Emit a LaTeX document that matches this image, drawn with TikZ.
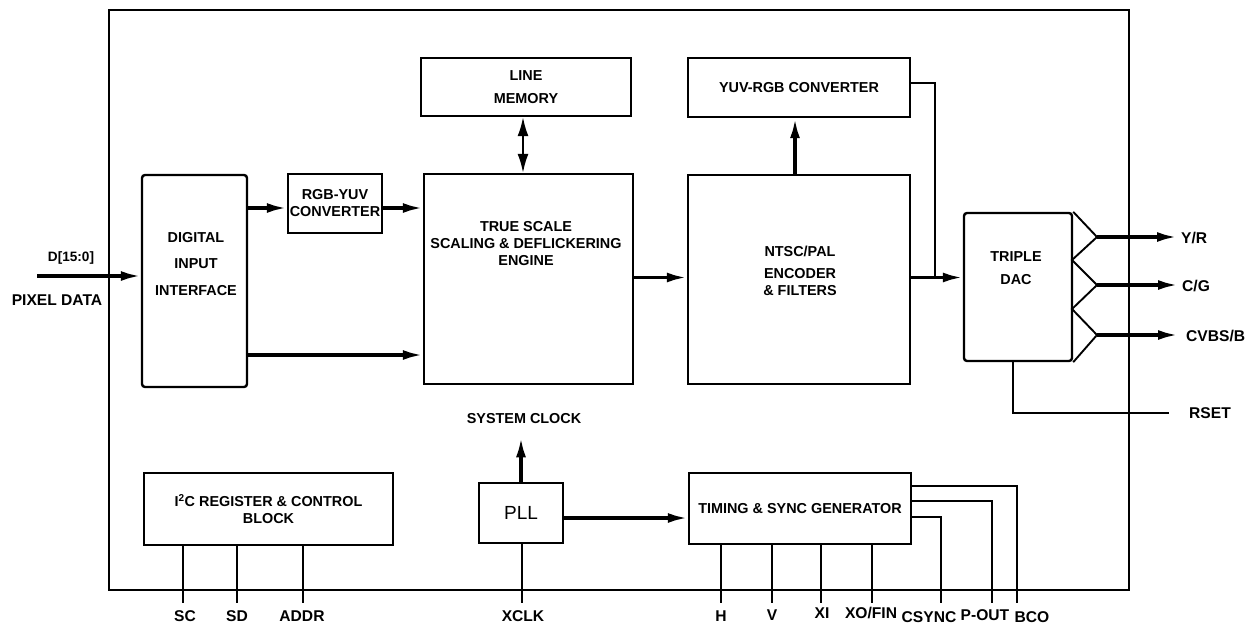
\documentclass[tikz,border=0pt]{standalone}
\usepackage{fontspec}
\setmainfont{Liberation Sans}
\usetikzlibrary{arrows.meta}

\begin{document}
\begin{tikzpicture}[x=1pt,y=-1pt,
  blk/.style={draw,line width=2.4pt,inner sep=0pt,font=\fontsize{14.4}{17}\selectfont\bfseries,align=center},
  rblk/.style={blk,rounded corners=3pt},
  txt/.style={font=\fontsize{14.4}{17}\selectfont\bfseries,align=center,inner sep=0pt},
  lbl/.style={txt,font=\fontsize{15.6}{18}\selectfont\bfseries},
  wire/.style={line width=1.9pt},
  bus/.style={line width=3.4pt,-{Latex[length=20pt,width=10pt]}}]
\useasboundingbox (0,0) rectangle (1253,624);
% chip outline
\draw[line width=2.4pt] (109,10) rectangle (1129,590);

% blocks
\node[rblk,minimum width=105pt,minimum height=212pt] (dii) at (194.5,281) {};
\node[txt] (dii-t) at (196,264) {DIGITAL\\[9.5pt]INPUT\\[9.5pt]INTERFACE};
\node[blk,minimum width=94pt,minimum height=59pt] (rgb) at (335,203.5) {RGB-YUV\\CONVERTER};
\node[blk,minimum width=210pt,minimum height=58pt] (lmem) at (526,87) {LINE\\[6pt]MEMORY};
\node[blk,minimum width=209pt,minimum height=210pt] (tse) at (528.5,279) {};
\node[txt] (tse-t) at (526,244) {TRUE SCALE\\SCALING \& DEFLICKERING\\ENGINE};
\node[blk,minimum width=222pt,minimum height=59pt] (yuv) at (799,87.5) {YUV-RGB CONVERTER};
\node[blk,minimum width=222pt,minimum height=209pt] (ntsc) at (799,279.5) {};
\node[txt] (ntsc-t) at (800,271) {NTSC/PAL\\[5pt]ENCODER\\\& FILTERS};
\node[rblk,minimum width=108pt,minimum height=148pt] (dac) at (1018,287) {};
\node[txt] (dac-t) at (1016,268.5) {TRIPLE\\[6pt]DAC};
\node[blk,minimum width=249pt,minimum height=72pt] (i2c) at (268.5,509) {I\textsuperscript{2}C REGISTER \& CONTROL\\BLOCK};
\node[blk,minimum width=84pt,minimum height=60pt,font=\fontsize{19}{22}\selectfont] (pll) at (521,513) {PLL};
\node[blk,minimum width=222pt,minimum height=71pt] (tsg) at (800,508.5) {TIMING \& SYNC GENERATOR};
\node[txt] (clk) at (524,419) {SYSTEM CLOCK};

% DAC output buffers
\draw[wire] (dac.north east) -- (1097,237) coordinate (t1) -- (1072,260) -- (1097,285) coordinate (t2)
  -- (1072,309) -- (1097,335) coordinate (t3) -- (dac.south east);

% outside labels
\node[txt,font=\fontsize{13.6}{16}\selectfont\bfseries] (d) at (71,258) {D[15:0]};
\node[lbl] (pix) at (57,300) {PIXEL DATA};
\node[lbl,anchor=west] (yr) at (1181,238) {Y/R};
\node[lbl,anchor=west] (cg) at (1182,286) {C/G};
\node[lbl,anchor=west] (cvbs) at (1186,336) {CVBS/B};
\node[lbl,anchor=west] (rset) at (1189,413) {RSET};

% data path
\coordinate (din) at (37,276);
\coordinate (c1) at (0,208);
\coordinate (c2) at (0,355);
\coordinate (c3) at (0,277.5);
\coordinate (jn) at (935,277.5);
\draw[bus] (din) -- (din -| dii.west);
\draw[bus] (dii.east |- c1) -- (rgb.west |- c1);
\draw[bus] (rgb.east |- c1) -- (tse.west |- c1);
\draw[bus] (dii.east |- c2) -- (tse.west |- c2);
\draw[bus] (tse.east |- c3) -- (ntsc.west |- c3);
\draw[bus] (ntsc.east |- c3) -- (dac.west |- c3);
\draw[bus] ([xshift=-4pt]ntsc.north) -- ([xshift=-4pt]yuv.south);
\draw[wire] ([yshift=4.5pt]yuv.east) -| (jn);
\draw[line width=1.9pt,{Latex[length=19pt,width=11pt]}-{Latex[length=19pt,width=11pt]}] ([xshift=-3pt]lmem.south) -- ([xshift=-3pt]lmem.south |- tse.north);
\draw[bus,shorten >=4pt] (t1) -- (t1 -| yr.west);
\draw[bus,shorten >=4pt] (t2) -- (t2 -| cg.west);
\draw[bus,shorten >=8pt] (t3) -- (t3 -| cvbs.west);
\draw[wire] ([xshift=-5pt]dac.south) |- ([xshift=-20pt]rset.west);
\draw[bus,shorten >=13pt] (pll.north) -- (pll.north |- clk.south);
\draw[bus] ([yshift=-5pt]pll.east) -- ([yshift=-5pt]pll.east -| tsg.west);

% pins
\coordinate (scp) at (183,603);
\coordinate (sdp) at (237,603);
\coordinate (addrp) at (303,603);
\coordinate (xclkp) at (522,603);
\coordinate (hp) at (721,603);
\coordinate (vp) at (772,603);
\coordinate (xip) at (821,603);
\coordinate (xop) at (872,603);
\coordinate (csyncp) at (941,603);
\coordinate (poutp) at (992,603);
\coordinate (bcop) at (1017,603);
\draw[wire] (scp |- i2c.south) -- (scp);
\draw[wire] (sdp |- i2c.south) -- (sdp);
\draw[wire] (addrp |- i2c.south) -- (addrp);
\draw[wire] (xclkp |- pll.south) -- (xclkp);
\draw[wire] (hp |- tsg.south) -- (hp);
\draw[wire] (vp |- tsg.south) -- (vp);
\draw[wire] (xip |- tsg.south) -- (xip);
\draw[wire] (xop |- tsg.south) -- (xop);
\draw[wire] ([yshift=-8.5pt]tsg.east) -| (csyncp);
\draw[wire] ([yshift=7.5pt]tsg.east) -| (poutp);
\draw[wire] ([yshift=22.5pt]tsg.east) -| (bcop);
\node[lbl] (sc) at (185,616) {SC};
\node[lbl] (sd) at (237,616) {SD};
\node[lbl] (addr) at (302,616) {ADDR};
\node[lbl] (xclk) at (523,616) {XCLK};
\node[lbl] (h) at (721,616) {H};
\node[lbl] (v) at (772,615) {V};
\node[lbl] (xi) at (822,613) {XI};
\node[lbl] (xo) at (871,613) {XO/FIN};
\node[lbl] (csync) at (929,617) {CSYNC};
\node[lbl] (pout) at (985,615) {P-OUT};
\node[lbl] (bco) at (1032,617) {BCO};
\end{tikzpicture}
\end{document}
